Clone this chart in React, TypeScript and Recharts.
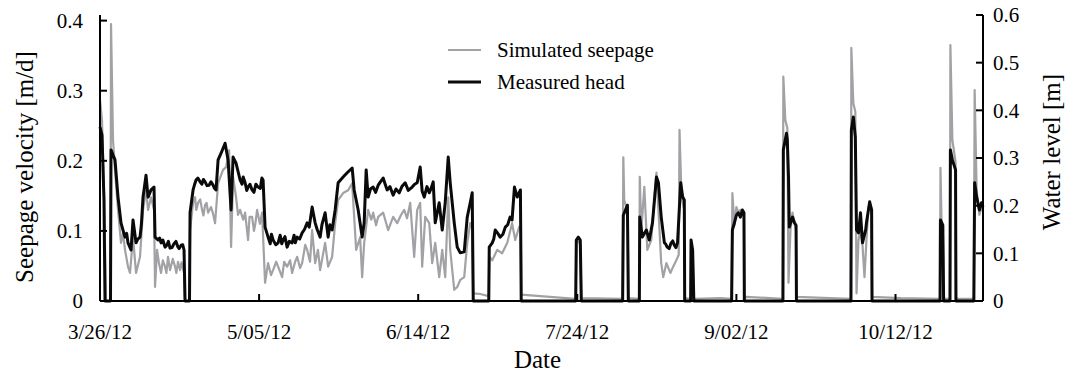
import React from 'react';
import { ComposedChart, Line, XAxis, YAxis, Legend } from 'recharts';

const FONT = '"Liberation Serif", "Times New Roman", serif';
const GREY = '#a2a2a6';
const BLACK = '#0a0a0a';

// [day since 3/26/12, water level m]
const headSeries: [number, number][] = [
  [0, 0.365], [0.5, 0.348], [1.0, 0.212], [1.26, 0], [2.64, 0], [2.77, 0.317], [3.27, 0.306], [3.77, 0.296],
  [4.53, 0.218], [5.28, 0.164], [5.8, 0.148], [6.29, 0.134], [6.7, 0.142], [7.04, 0.122], [7.8, 0.107], [8.3, 0.17],
  [9.06, 0.122], [9.5, 0.13], [10.06, 0.134], [10.4, 0.16], [10.82, 0.218], [11.57, 0.264], [12.08, 0.218],
  [12.83, 0.233], [13.58, 0.239], [13.84, 0.134], [14.59, 0.128], [15.0, 0.132], [15.35, 0.122], [15.8, 0.128],
  [16.35, 0.113], [16.8, 0.117], [17.2, 0.125], [17.61, 0.111], [18.1, 0.112], [18.6, 0.12], [19.1, 0.125],
  [19.62, 0.113], [19.9, 0.11], [20.4, 0.117], [20.8, 0.118], [21.13, 0.107], [21.38, 0], [22.5, 0],
  [22.64, 0.185], [23.4, 0.233], [23.8, 0.245], [24.15, 0.254], [24.6, 0.258], [25.16, 0.25], [25.6, 0.245],
  [26.0, 0.255], [26.42, 0.25], [26.9, 0.242], [27.42, 0.243], [27.9, 0.25], [28.43, 0.243], [28.8, 0.236],
  [29.18, 0.233], [29.69, 0.296], [30.44, 0.31], [31.45, 0.331], [32.2, 0.296], [32.96, 0.191], [33.46, 0.302],
  [34.21, 0.289], [35.22, 0.254], [35.7, 0.245], [36.0, 0.26], [36.48, 0.248], [36.9, 0.232], [37.23, 0.239],
  [37.7, 0.245], [38.24, 0.233], [38.7, 0.228], [39.2, 0.245], [39.75, 0.239], [40.3, 0.236], [40.7, 0.258],
  [41.0, 0.254], [41.5, 0.155], [42.26, 0.134], [42.8, 0.12], [43.1, 0.14], [43.52, 0.128], [44.2, 0.118],
  [44.78, 0.122], [45.3, 0.138], [45.7, 0.12], [46.04, 0.128], [46.5, 0.135], [47.04, 0.113], [47.6, 0.125],
  [48.3, 0.122], [48.8, 0.138], [49.1, 0.122], [49.56, 0.134], [50.2, 0.13], [50.82, 0.143], [51.4, 0.15],
  [52.08, 0.164], [52.6, 0.155], [53.33, 0.197], [54.09, 0.164], [54.6, 0.15], [55.35, 0.134], [55.8, 0.16],
  [56.6, 0.185], [57.36, 0.134], [57.8, 0.16], [58.36, 0.149], [59.12, 0.191], [59.87, 0.248], [61.13, 0.26],
  [62.14, 0.269], [63.4, 0.279], [63.9, 0.233], [64.91, 0.191], [65.91, 0.134], [66.42, 0.164], [66.92, 0.275],
  [67.42, 0.218], [68.0, 0.235], [68.68, 0.239], [69.3, 0.228], [69.94, 0.243], [70.5, 0.25], [71.19, 0.258],
  [71.7, 0.245], [72.2, 0.233], [72.9, 0.24], [73.71, 0.222], [74.4, 0.235], [75.22, 0.227], [75.9, 0.24],
  [76.73, 0.248], [77.5, 0.232], [78.49, 0.239], [79.1, 0.245], [79.75, 0.248], [80.5, 0.281], [81.0, 0.23],
  [81.51, 0.218], [82.2, 0.24], [82.77, 0.227], [83.2, 0.235], [83.77, 0.25], [84.28, 0.164], [85.28, 0.206],
  [86.04, 0.149], [86.79, 0.206], [87.55, 0.302], [88.05, 0.248], [89.06, 0.164], [89.81, 0.113], [90.57, 0.101],
  [91.57, 0.103], [92.33, 0.176], [93.08, 0.206], [93.58, 0.227], [93.84, 0], [97.74, 0], [97.86, 0.113],
  [98.62, 0.122], [99.0, 0.13], [99.37, 0.149], [100.0, 0.142], [100.6, 0.134], [101.3, 0.14], [101.9, 0.155],
  [102.5, 0.16], [103.1, 0.176], [103.6, 0.17], [104.2, 0.239], [104.9, 0.218], [105.7, 0.233], [105.9, 0],
  [119.6, 0], [119.75, 0.128], [120.25, 0.134], [120.75, 0.128], [121.0, 0], [131.4, 0], [131.57, 0.18],
  [132.1, 0.191], [132.6, 0.201], [132.83, 0], [135.6, 0], [135.7, 0.176], [136.35, 0.134], [137.36, 0.149],
  [138.1, 0.128], [138.9, 0.164], [139.9, 0.26], [140.4, 0.248], [141.1, 0.176], [141.9, 0.122], [142.2, 0.12],
  [142.6, 0.113], [143.1, 0.11], [143.6, 0.122], [144.0, 0.126], [144.4, 0.117], [144.8, 0.112], [145.2, 0.122],
  [146.0, 0.248], [146.5, 0.218], [146.9, 0.212], [147.0, 0], [148.5, 0], [148.6, 0.128], [149.0, 0.107],
  [149.3, 0], [158.8, 0], [158.99, 0.149], [159.5, 0.164], [160.0, 0.18], [160.5, 0.185], [161.0, 0.176],
  [161.5, 0.191], [161.9, 0.185], [162.0, 0], [171.7, 0], [171.8, 0.317], [172.6, 0.352], [172.8, 0.338],
  [173.1, 0.26], [173.3, 0.155], [174.1, 0.176], [174.6, 0.164], [175.0, 0.159], [175.1, 0], [188.8, 0],
  [188.9, 0.359], [189.4, 0.386], [189.9, 0.344], [190.2, 0.149], [190.7, 0.143], [191.2, 0.185], [191.7, 0.122],
  [192.5, 0.149], [192.7, 0.164], [193.5, 0.208], [194.0, 0.191], [194.1, 0], [211.2, 0], [211.3, 0.17],
  [211.9, 0.159], [212.1, 0], [213.7, 0], [213.8, 0.317], [214.3, 0.296], [215.1, 0.275], [215.2, 0], [219.7, 0],
  [219.9, 0.248], [220.4, 0.218], [221.1, 0.191], [221.6, 0.206], [222, 0.197],
];

// [day since 3/26/12, seepage velocity m/d]
const seepageSeries: [number, number][] = [
  [0, 0.287], [0.5, 0.258], [1.0, 0.158], [1.51, 0], [2.64, 0], [2.77, 0.395], [3.27, 0.23], [3.77, 0.187],
  [4.53, 0.13], [5.28, 0.083], [5.79, 0.097], [6.29, 0.073], [7.04, 0.049], [7.55, 0.04], [8.3, 0.091],
  [9.06, 0.04], [10.06, 0.063], [10.82, 0.13], [11.57, 0.158], [12.08, 0.13], [12.83, 0.148], [13.58, 0.13],
  [13.84, 0.02], [14.34, 0.073], [14.8, 0.055], [15.35, 0.04], [15.8, 0.058], [16.35, 0.049], [16.7, 0.04],
  [17.1, 0.063], [17.61, 0.044], [18.3, 0.06], [18.87, 0.049], [19.2, 0.04], [19.62, 0.056], [20.13, 0.044],
  [20.5, 0.055], [21.13, 0.04], [21.38, 0], [22.5, 0], [22.64, 0.101], [23.4, 0.14], [23.9, 0.148],
  [24.2, 0.13], [24.65, 0.14], [25.2, 0.145], [25.66, 0.13], [26.0, 0.122], [26.42, 0.137], [26.8, 0.14],
  [27.17, 0.126], [27.92, 0.134], [28.4, 0.125], [28.93, 0.111], [29.69, 0.168], [30.94, 0.187], [31.7, 0.191],
  [32.45, 0.215], [32.96, 0.077], [33.46, 0.177], [34.21, 0.148], [34.7, 0.123], [35.22, 0.13], [36.0, 0.116],
  [36.48, 0.126], [37.23, 0.087], [37.6, 0.12], [38.24, 0.12], [38.7, 0.1], [39.0, 0.108], [39.5, 0.13],
  [40.2, 0.11], [40.75, 0.126], [41.5, 0.026], [42.26, 0.054], [43.0, 0.037], [43.52, 0.044], [44.3, 0.056],
  [44.78, 0.049], [45.79, 0.034], [46.3, 0.056], [47.04, 0.049], [47.8, 0.058], [48.3, 0.04], [49.06, 0.056],
  [49.56, 0.063], [50.3, 0.047], [50.82, 0.054], [51.6, 0.08], [52.08, 0.073], [52.8, 0.056], [53.33, 0.101],
  [54.09, 0.054], [54.8, 0.073], [55.35, 0.044], [56.6, 0.083], [57.36, 0.049], [58.36, 0.063], [59.12, 0.111],
  [59.87, 0.144], [61.13, 0.154], [62.39, 0.158], [63.4, 0.168], [63.9, 0.12], [64.4, 0.073], [65.4, 0.091],
  [65.91, 0.034], [66.42, 0.083], [67.42, 0.13], [68.2, 0.116], [68.68, 0.126], [69.4, 0.108], [69.94, 0.12],
  [71.19, 0.126], [72.45, 0.101], [73.71, 0.12], [74.72, 0.111], [75.7, 0.123], [76.48, 0.13], [77.2, 0.118],
  [77.99, 0.14], [78.99, 0.063], [79.75, 0.13], [80.5, 0.14], [81.0, 0.049], [81.76, 0.12], [82.77, 0.111],
  [83.52, 0.054], [84.28, 0.083], [85.28, 0.034], [86.04, 0.073], [86.79, 0.034], [87.55, 0.148], [88.05, 0.073],
  [89.06, 0.016], [89.81, 0.02], [90.57, 0.03], [91.57, 0.034], [92.33, 0.083], [93.08, 0.111], [93.58, 0.104],
  [93.84, 0.011], [95.6, 0.01], [97.74, 0.007], [97.86, 0.063], [98.62, 0.058], [99.87, 0.073], [101.1, 0.068],
  [102.4, 0.083], [103.6, 0.111], [104.4, 0.087], [105.4, 0.106], [105.8, 0.101], [105.9, 0.009], [110.7, 0.007],
  [119.6, 0.003], [119.75, 0.083], [120.25, 0.087], [120.75, 0.08], [121.0, 0.004], [131.4, 0.003],
  [131.57, 0.205], [131.8, 0.144], [132.3, 0.134], [132.7, 0.134], [132.83, 0.004], [135.6, 0.003],
  [135.7, 0.177], [136.1, 0.101], [136.85, 0.163], [137.6, 0.073], [138.6, 0.087], [139.4, 0.148], [139.9, 0.183],
  [140.4, 0.13], [141.1, 0.054], [141.6, 0.034], [142.4, 0.054], [143.4, 0.04], [144.1, 0.049], [144.9, 0.058],
  [145.5, 0.066], [145.7, 0.244], [146.2, 0.148], [146.9, 0.13], [147.0, 0.004], [148.5, 0.003], [148.6, 0.083],
  [149.0, 0.07], [149.3, 0.003], [156, 0.004], [158.8, 0.003], [158.99, 0.154], [159.5, 0.108], [160.0, 0.134],
  [160.5, 0.126], [161.0, 0.13], [161.9, 0.12], [162.0, 0.004], [162.5, 0.006], [171.7, 0.003], [171.8, 0.32],
  [172.3, 0.258], [172.8, 0.247], [173.1, 0.026], [173.6, 0.101], [174.1, 0.126], [175.0, 0.101], [175.1, 0.006],
  [183.6, 0.004], [188.8, 0.003], [188.9, 0.361], [189.4, 0.282], [189.9, 0.27], [190.2, 0.011], [190.7, 0.087],
  [191.2, 0.101], [191.7, 0.08], [192.2, 0.034], [192.7, 0.087], [193.2, 0.134], [194.0, 0.127], [194.1, 0.006],
  [201.3, 0.004], [211.2, 0.003], [211.3, 0.19], [211.6, 0.108], [211.9, 0.104], [212.1, 0.003], [213.7, 0.003],
  [213.8, 0.365], [214.3, 0.23], [215.1, 0.198], [215.2, 0.003], [219.7, 0.003], [219.9, 0.301], [220.4, 0.158],
  [221.1, 0.123], [221.6, 0.137], [222, 0.127],
];

const dateTicks = [0, 40, 80, 120, 160, 200];
const dateLabels = ['3/26/12', '5/05/12', '6/14/12', '7/24/12', '9/02/12', '10/12/12'];
const seepageTicks = [0, 0.1, 0.2, 0.3, 0.4];
const levelTicks = [0, 0.1, 0.2, 0.3, 0.4, 0.5, 0.6];
const legendNames = ['Simulated seepage', 'Measured head'];

const byDay = (a: [number, number], b: [number, number]) => a[0] - b[0];
const headData = [...headSeries].sort(byDay).map(([day, head]) => ({ day, head }));
const seepageData = [...seepageSeries].sort(byDay).map(([day, seepage]) => ({ day, seepage }));

const fmt = (v: number) => (v === 0 ? '0' : v.toFixed(1));
const dateFmt = (v: number) => dateLabels[dateTicks.indexOf(v)] ?? '';

const tickStyle = { fontSize: 21, fill: '#000', fontFamily: FONT };
const axisLineStyle = { stroke: '#000', strokeWidth: 2 };
const tickLineStyle = { stroke: '#000', strokeWidth: 2 };

const LeftTitle = (props: any) => {
  const vb = props.viewBox || { x: 0, y: 15, width: 100, height: 286 };
  const cx = vb.x + 24;
  const cy = vb.y + vb.height / 2 + 9;
  return (
    <text x={cx} y={cy} transform={`rotate(-90 ${cx} ${cy})`} textAnchor="middle" dominantBaseline="central"
      fontSize={25} fontFamily={FONT} fill="#000">Seepage velocity [m/d]</text>
  );
};

const RightTitle = (props: any) => {
  const vb = props.viewBox || { x: 983, y: 15, width: 84, height: 286 };
  const cx = vb.x + 68;
  const cy = vb.y + vb.height / 2 - 6;
  return (
    <text x={cx} y={cy} transform={`rotate(-90 ${cx} ${cy})`} textAnchor="middle" dominantBaseline="central"
      fontSize={25} fontFamily={FONT} fill="#000">Water level [m]</text>
  );
};

const BottomTitle = (props: any) => {
  const vb = props.viewBox || { x: 100, y: 301, width: 883, height: 77 };
  const cx = vb.x + vb.width / 2 - 4;
  const cy = vb.y + 67;
  return (
    <text x={cx} y={cy} textAnchor="middle" fontSize={25} fontFamily={FONT} fill="#000">Date</text>
  );
};

const LegendBox = () => (
  <svg width={240} height={72} style={{ display: 'block' }}>
    <line x1={8} x2={41} y1={20} y2={20} stroke={GREY} strokeWidth={2.2} />
    <text x={57} y={27} fontSize={21} fontFamily={FONT} fill="#000">{legendNames[0]}</text>
    <line x1={8} x2={41} y1={52} y2={52} stroke={BLACK} strokeWidth={3} />
    <text x={57} y={59} fontSize={21} fontFamily={FONT} fill="#000">{legendNames[1]}</text>
  </svg>
);

export default function App() {
  return (
    <div style={{ position: 'absolute', left: 0, top: 0, background: '#fff' }}>
      <ComposedChart width={1067} height={378} margin={{ top: 15, right: 0, bottom: 0, left: 0 }}>
        <XAxis
          xAxisId="bottom"
          dataKey="day"
          type="number"
          domain={[0, 222]}
          ticks={dateTicks}
          tickFormatter={dateFmt}
          interval={0}
          height={77}
          tickSize={-7}
          tickMargin={30}
          tick={tickStyle}
          tickLine={tickLineStyle}
          axisLine={axisLineStyle}
          label={<BottomTitle />}
        />
        <XAxis
          xAxisId="top"
          orientation="top"
          dataKey="day"
          type="number"
          domain={[0, 222]}
          height={0}
          tick={false}
          tickLine={false}
          axisLine={axisLineStyle}
        />
        <YAxis
          yAxisId="left"
          orientation="left"
          type="number"
          domain={[0, 0.408]}
          ticks={seepageTicks}
          tickFormatter={fmt}
          interval={0}
          width={100}
          tickSize={-7}
          tickMargin={24}
          tick={tickStyle}
          tickLine={tickLineStyle}
          axisLine={axisLineStyle}
          label={<LeftTitle />}
        />
        <YAxis
          yAxisId="right"
          orientation="right"
          type="number"
          domain={[0, 0.6]}
          ticks={levelTicks}
          tickFormatter={fmt}
          interval={0}
          width={84}
          tickSize={-7}
          tickMargin={17}
          tick={tickStyle}
          tickLine={tickLineStyle}
          axisLine={axisLineStyle}
          label={<RightTitle />}
        />
        <Legend
          layout="vertical"
          align="center"
          verticalAlign="middle"
          content={() => <LegendBox />}
          wrapperStyle={{ left: 440, top: 30, width: 240 }}
        />
        <Line
          xAxisId="bottom"
          yAxisId="left"
          data={seepageData}
          dataKey="seepage"
          name={legendNames[0]}
          type="linear"
          stroke={GREY}
          strokeWidth={2.2}
          dot={false}
          activeDot={false}
          isAnimationActive={false}
          strokeLinejoin="round"
        />
        <Line
          xAxisId="bottom"
          yAxisId="right"
          data={headData}
          dataKey="head"
          name={legendNames[1]}
          type="linear"
          stroke={BLACK}
          strokeWidth={3}
          dot={false}
          activeDot={false}
          isAnimationActive={false}
          strokeLinejoin="round"
        />
      </ComposedChart>
    </div>
  );
}
